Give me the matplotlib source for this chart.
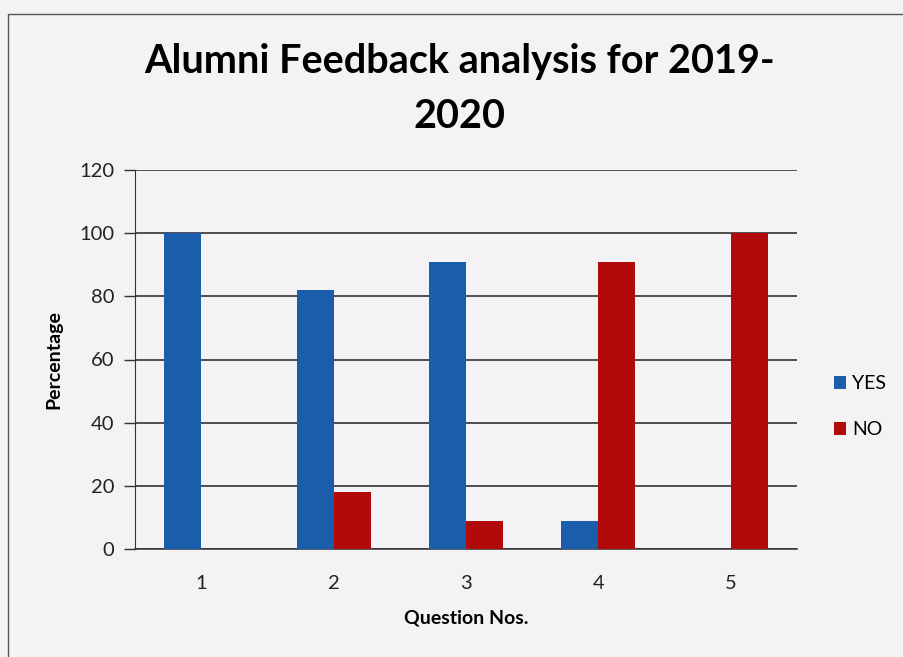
import matplotlib.pyplot as plt
import numpy as np
from matplotlib.patches import Rectangle

plt.rcParams['font.family'] = ['Lato', 'DejaVu Sans']

questions = ['1', '2', '3', '4', '5']
yes_pct = [100, 82, 91, 9, 0]
no_pct = [0, 18, 9, 91, 100]
y_ticks = [0, 20, 40, 60, 80, 100, 120]

bg = '#f3f3f6'
fig = plt.figure(figsize=(9.04, 6.57), dpi=100, facecolor=bg)

# chart frame (scanned page border)
fig.patches.append(Rectangle((8 / 904, -0.05), 1.0, 1 - 14 / 657 + 0.05,
                             transform=fig.transFigure, fill=False,
                             edgecolor='#555555', linewidth=1.0))

ax = fig.add_axes([135 / 904, 1 - 549 / 657, 662 / 904, 379 / 657])
ax.set_facecolor(bg)

x = np.arange(1, len(questions) + 1)
w = 0.28
ax.bar(x - w / 2, yes_pct, w, color='#1a5eab', label='YES', zorder=3)
ax.bar(x + w / 2, no_pct, w, color='#b00a0a', label='NO', zorder=3)

ax.set_xlim(0.5, 5.5)
ax.set_ylim(0, 120)
ax.set_yticks(y_ticks)
ax.set_xticks(x)
ax.set_xticklabels(questions)
ax.tick_params(axis='y', length=8, width=1, color='#333333', labelsize=14.5, pad=7,
               labelcolor='#222222')
ax.tick_params(axis='x', length=0, labelsize=14.5, pad=19, labelcolor='#222222')
ax.yaxis.grid(True, color='#222222', linewidth=1.1, zorder=0)

for side in ['top', 'right']:
    ax.spines[side].set_visible(False)
ax.spines['left'].set_color('#333333')
ax.spines['bottom'].set_color('#333333')
ax.spines['bottom'].set_linewidth(1.1)

ax.set_ylabel('Percentage', fontsize=14, fontweight='bold', labelpad=12)
ax.set_xlabel('Question Nos.', fontsize=14, fontweight='bold', labelpad=12)

fig.text(460 / 904, 1 - 62 / 657, 'Alumni Feedback analysis for 2019-',
         ha='center', va='center', fontsize=28.5, fontweight='bold')
fig.text(460 / 904, 1 - 116 / 657, '2020',
         ha='center', va='center', fontsize=28.5, fontweight='bold')

ax.legend(loc='center left', bbox_to_anchor=(1.03, 0.375), frameon=False,
          fontsize=14, handlelength=0.6, handleheight=0.6, handletextpad=0.3,
          labelspacing=1.5)

fig.savefig('out.png', dpi=100, facecolor=bg)
